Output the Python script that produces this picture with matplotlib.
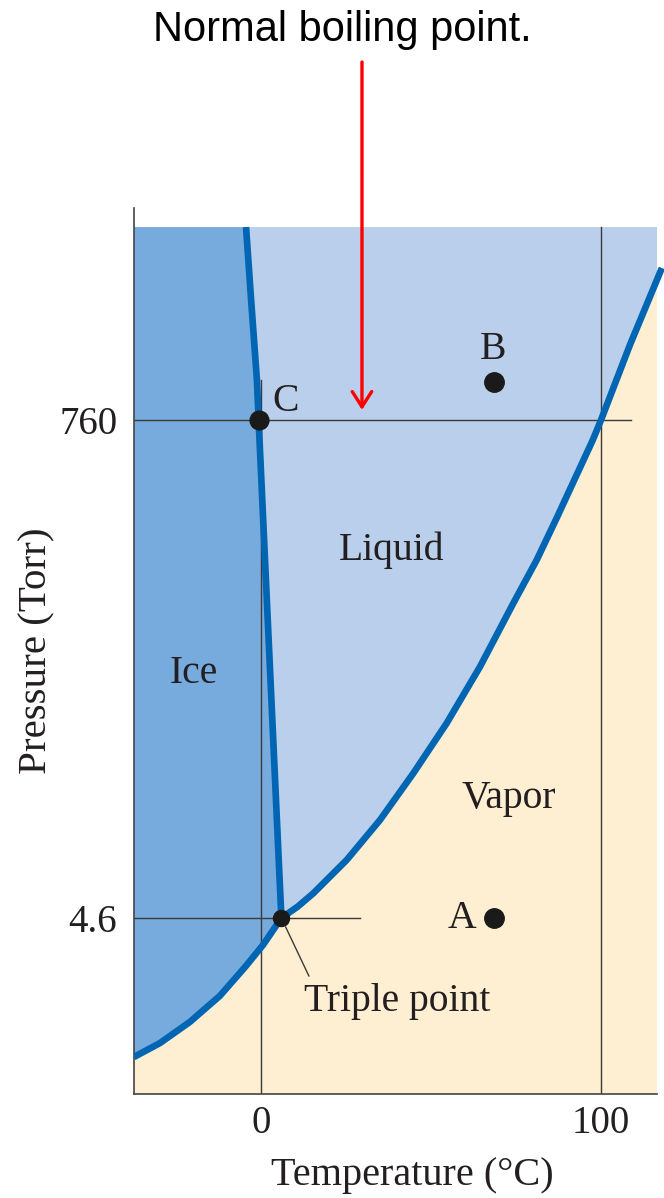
import matplotlib
matplotlib.use("Agg")
import matplotlib.pyplot as plt
from matplotlib.ticker import NullLocator

# schematic phase diagram of water (temperature in degC, pressure in Torr, log axis)
sub_T = [-37.4, -29.7, -20.9, -12.1, -4.7, 0.6, 6.0]
sub_P = [1.105, 1.276, 1.585, 2.07, 2.78, 3.49, 4.6]

vap_T = [6.0, 10.8, 15.4, 25.2, 35.0, 44.8, 54.6, 64.4, 74.2, 81.1, 87.1, 97.6, 100.0, 108.5, 117.9]
vap_P = [4.6, 5.17, 5.93, 8.34, 12.57, 20.3, 33.9, 60.5, 116, 181, 281, 620, 760, 1641, 3615]

fus_T = [6.0, -0.7, -1.2, -2.9, -4.4]
fus_P = [4.6, 760, 1146, 2600, 5500]

triple = (6.0, 4.6)
point_C = (-0.7, 760)
point_B = (68.5, 1123)
point_A = (68.5, 4.6)
boiling = (29.7, 843)

x_ticks = [0, 100]
y_ticks = [4.6, 760]
y_tick_labels = ["4.6", "760"]

t_min, t_max = -37.35, 116.47
p_min, p_max = 0.7566, 6689
p_top = 5500

ICE = "#77aadd"
LIQ = "#b9cfeb"
VAP = "#feeed2"
CURVE = "#0065b3"
INK = "#231f20"
GRID = "#3a3a3a"
serif = "Liberation Serif"
FS = 28.5

fig = plt.figure(figsize=(6.64, 11.98), dpi=100)
ax = fig.add_axes([134 / 664, 1 - 1094 / 1198, 523 / 664, 886 / 1198])
ax.set_yscale("log")
ax.set_xlim(t_min, t_max)
ax.set_ylim(p_min, p_max)

# regions
ax.fill_between([t_min, t_max], p_min, p_top, color=VAP, lw=0, zorder=0)
ice_x = [t_min] + sub_T + fus_T[1:] + [t_min]
ice_y = [sub_P[0]] + sub_P + fus_P[1:] + [p_top]
ax.fill(ice_x, ice_y, color=ICE, lw=0, zorder=1)
liq_x = fus_T[::-1] + vap_T[1:] + [vap_T[-1]]
liq_y = fus_P[::-1] + vap_P[1:] + [p_top]
ax.fill(liq_x, liq_y, color=LIQ, lw=0, zorder=1)

# reference lines
ax.plot([t_min, 108.8], [760, 760], color=GRID, lw=1.0, zorder=2)
ax.plot([t_min, 29.1], [4.6, 4.6], color=GRID, lw=1.0, zorder=2)
ax.plot([0, 0], [p_min, 1146], color=GRID, lw=1.0, zorder=2)
ax.plot([100, 100], [p_min, p_top], color=GRID, lw=1.0, zorder=2)

# phase boundaries
ax.plot(sub_T, sub_P, color=CURVE, lw=4.8, solid_capstyle="butt",
        solid_joinstyle="round", zorder=3)
ax.plot(vap_T, vap_P, color=CURVE, lw=4.8, solid_capstyle="butt",
        solid_joinstyle="round", zorder=3, clip_on=False)
ax.plot(fus_T, fus_P, color=CURVE, lw=4.8, solid_capstyle="butt",
        solid_joinstyle="round", zorder=3)

# points
ax.plot(*point_C, "o", color="#1a1a1a", ms=13.5, zorder=4)
ax.plot(*point_B, "o", color="#1a1a1a", ms=14, zorder=4)
ax.plot(*point_A, "o", color="#1a1a1a", ms=14, zorder=4)
ax.plot(*triple, "o", color="#1a1a1a", ms=11.5, zorder=4)

# labels
lab = dict(family=serif, fontsize=FS, color=INK, ha="center", va="center", zorder=5)
ax.text(38.4, 200, "Liquid", **lab)
ax.text(-19.9, 56.6, "Ice", **lab)
ax.text(72.9, 15.6, "Vapor", **lab)
ax.text(68.2, 1560, "B", **lab)
ax.text(59.1, 4.6, "A", **lab)
ax.text(7.3, 917, "C", **lab)
ax.annotate("Triple point", xy=triple, xytext=(40.1, 1.96),
            family=serif, fontsize=FS, color=INK, ha="center", va="center",
            arrowprops=dict(arrowstyle="-", color=GRID, lw=1.0,
                            shrinkA=3, shrinkB=7, relpos=(0.05, 0.92)))

# red arrow + title
fig.text(342 / 664, 1 - 30 / 1198, "Normal boiling point.", family="Liberation Sans",
         fontsize=30, color="black", ha="center", va="center")
ax.annotate("", xy=boiling, xycoords="data",
            xytext=(362 / 664, 1 - 62 / 1198), textcoords="figure fraction",
            arrowprops=dict(arrowstyle="->,head_length=0.55,head_width=0.35",
                            color="#ff0000", lw=2.4, mutation_scale=20,
                            shrinkA=0, shrinkB=0), annotation_clip=False)

# axes
for side in ["top", "right"]:
    ax.spines[side].set_visible(False)
for side in ["left", "bottom"]:
    ax.spines[side].set_color("#444444")
    ax.spines[side].set_linewidth(1.2)
ax.set_xticks(x_ticks)
ax.set_xticklabels([str(t) for t in x_ticks])
ax.set_yticks(y_ticks)
ax.set_yticklabels(y_tick_labels)
ax.yaxis.set_minor_locator(NullLocator())
ax.tick_params(length=0, labelsize=28, colors=INK)
ax.tick_params(axis="x", pad=8)
ax.tick_params(axis="y", pad=12)
for t in ax.get_xticklabels() + ax.get_yticklabels():
    t.set_family(serif)
ax.set_xlabel("Temperature (°C)", family=serif, fontsize=29, color=INK)
ax.set_ylabel("Pressure (Torr)", family=serif, fontsize=29.5, color=INK)
ax.xaxis.set_label_coords(0.532, -0.071)
ax.yaxis.set_label_coords(-0.151, 0.5)

fig.savefig("out.png", dpi=100)
